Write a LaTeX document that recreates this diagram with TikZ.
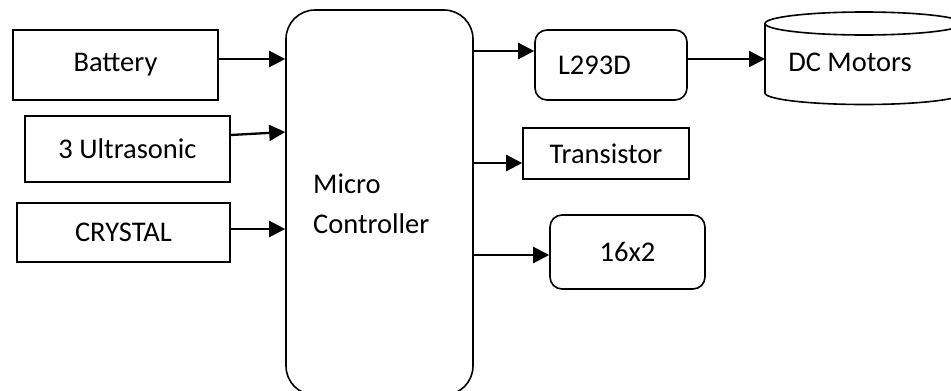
\documentclass[tikz,border=0pt]{standalone}
\usepackage{fontspec}
\setmainfont{Carlito}
\usetikzlibrary{arrows.meta}
\begin{document}
\begin{tikzpicture}[x=1pt,y=-1pt,
 box/.style={draw,line width=1.6pt,inner sep=0pt,font=\fontsize{28.5}{32}\selectfont},
 rbox/.style={box,rounded corners=12pt},
 conn/.style={line width=2.3pt,-{Triangle[length=16pt,width=16pt]}},
 lbl/.style={inner sep=0pt,font=\fontsize{28.5}{32}\selectfont}]
\clip (0,0) rectangle (951,391);
\fill[white] (0,0) rectangle (951,391);
% inputs
\node[box,minimum width=205pt,minimum height=70pt] (battery) at (115.5,65) {Battery};
\node[box,minimum width=205pt,minimum height=66pt] (ultra) at (127.5,149) {3 Ultrasonic};
\node[box,minimum width=213pt,minimum height=59pt] (crystal) at (123.5,232.5) {CRYSTAL};
% micro controller
\node[box,rounded corners=29pt,minimum width=187pt,minimum height=385pt] (mc) at (379.5,202.5) {};
\node[lbl,align=left,anchor=west,font=\fontsize{28.5}{40}\selectfont] (mctext) at (313,204) {Micro\\Controller};
% outputs
\node[rbox,minimum width=152pt,minimum height=70pt,inner xsep=23pt,text width=106pt,align=left] (l293d) at (611,65) {L293D};
\node[box,minimum width=166pt,minimum height=51pt] (trans) at (606,153.5) {Transistor};
\node[rbox,minimum width=155pt,minimum height=74pt] (lcd) at (627.5,252) {16x2};
% DC motors cylinder
\draw[line width=1.6pt] (765,23.5) -- (765,93) arc[start angle=180,end angle=0,x radius=99,y radius=11.5] -- (963,23.5);
\draw[line width=1.6pt] (864,23.5) ellipse[x radius=99,y radius=11.5];
\node[lbl] (motors) at (850,62) {DC Motors};
\coordinate (motorsin) at (765,59);
% connectors
\draw[conn] (battery.east |- 0,59) -- (mc.west |- 0,59);
\draw[conn] (ultra.east |- 0,135) -- (mc.west |- 0,132);
\draw[conn] (crystal.east |- 0,229) -- (mc.west |- 0,229);
\draw[conn] (mc.east |- 0,51) -- (l293d.west |- 0,51);
\draw[conn] (l293d.east |- 0,59) -- (motorsin);
\draw[conn] (mc.east |- 0,163) -- (trans.west |- 0,163);
\draw[conn] (mc.east |- 0,255) -- (lcd.west |- 0,255);
\end{tikzpicture}
\end{document}
